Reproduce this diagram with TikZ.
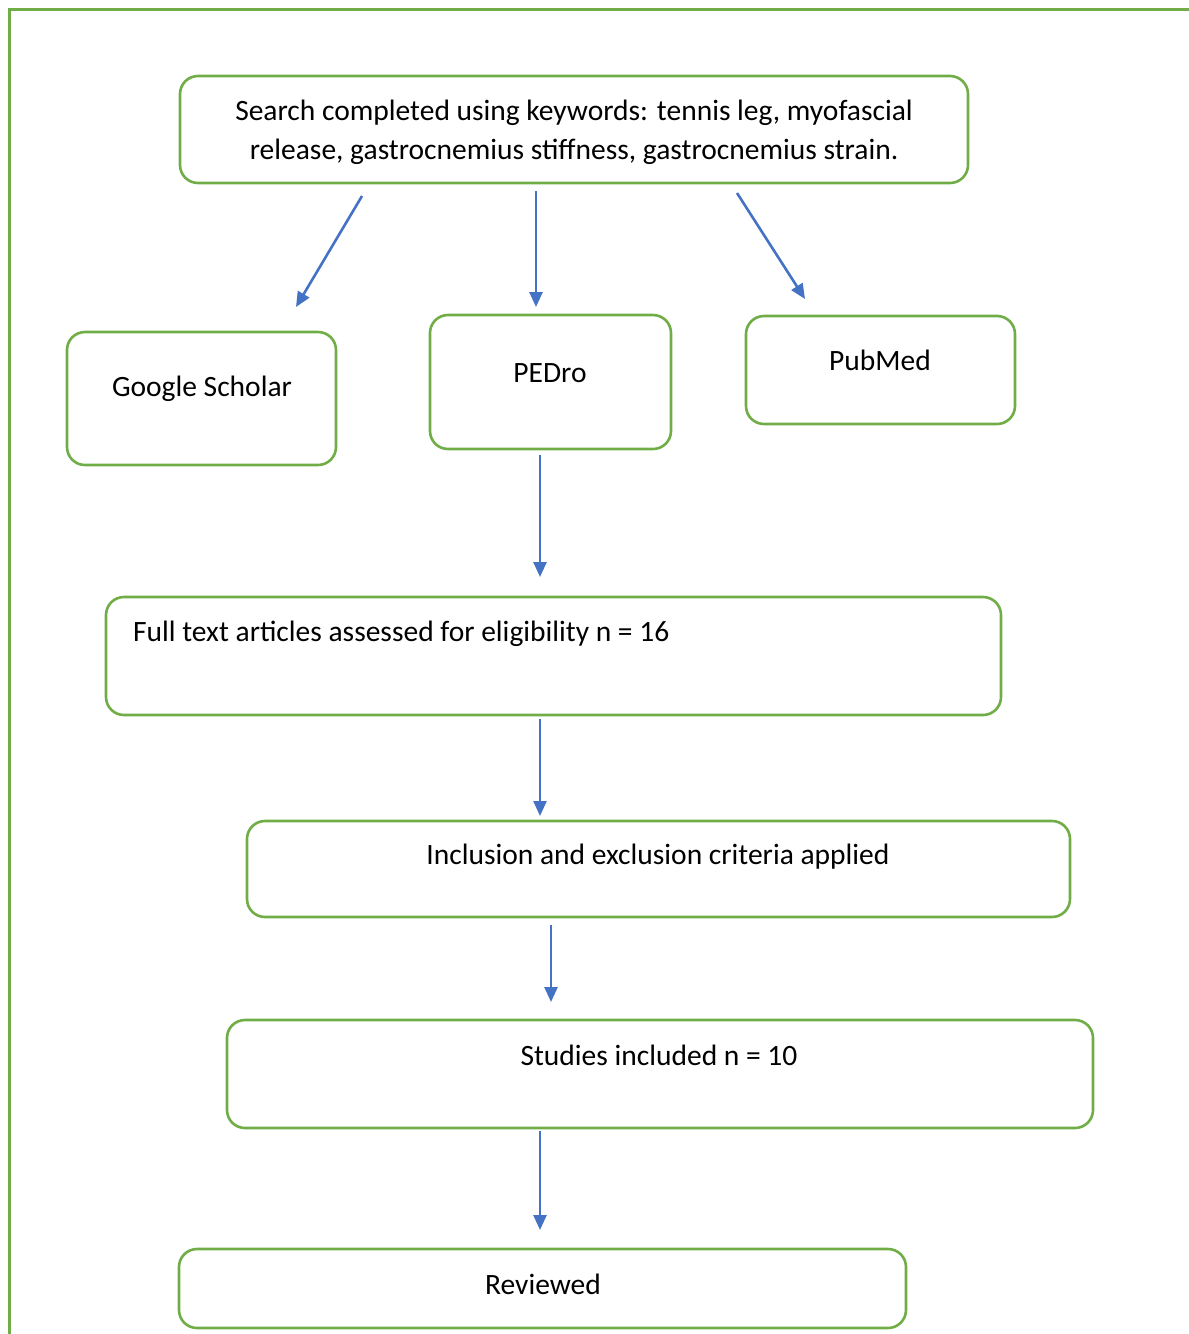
\documentclass[tikz,border=0pt]{standalone}
\usepackage{fontspec}
\setmainfont{Carlito}
\usetikzlibrary{arrows.meta}
\definecolor{bgreen}{HTML}{70AD47}
\definecolor{ablue}{HTML}{4472C4}
\tikzset{
  box/.style={draw=bgreen, line width=2.6pt, rounded corners=18pt, inner sep=0pt},
  txt/.style={inner sep=0pt, font=\fontsize{29.5}{39}\selectfont, align=center},
  conn/.style={draw=ablue, line width=2.6pt, -{Triangle[length=15pt,width=13pt]}},
}
\begin{document}
\begin{tikzpicture}[x=1pt,y=-1pt]
\useasboundingbox (0,0) rectangle (1189,1334);
% outer frame (top and left edges visible)
\draw[bgreen, line width=2.6pt] (9.5,1345) -- (9.5,9.5) -- (1200,9.5);

% boxes
\node[box, minimum width=788pt, minimum height=107pt] (search) at (574,129.5) {};
\node[txt] (searchT) at (574,132) {Search completed using keywords: tennis leg, myofascial\\release, gastrocnemius stiffness, gastrocnemius strain.};

\node[box, minimum width=269pt, minimum height=133pt] (gs) at (201.5,398.5) {};
\node[txt] (gsT) at (202,389) {Google Scholar};

\node[box, minimum width=241pt, minimum height=134pt] (pedro) at (550.5,382) {};
\node[txt] (pedroT) at (550,373) {PEDro};

\node[box, minimum width=269pt, minimum height=108pt] (pubmed) at (880.5,370) {};
\node[txt] (pubmedT) at (880,360) {PubMed};

\node[box, minimum width=895pt, minimum height=118pt] (full) at (553.5,656) {};
\node[txt, anchor=west] (fullT) at (133,634) {Full text articles assessed for eligibility n = 16};

\node[box, minimum width=823pt, minimum height=96pt] (incl) at (658.5,869) {};
\node[txt] (inclT) at (658,857) {Inclusion and exclusion criteria applied};

\node[box, minimum width=866pt, minimum height=108pt] (stud) at (660,1074) {};
\node[txt] (studT) at (659,1055) {Studies included n = 10};

\node[box, minimum width=727pt, minimum height=79pt] (rev) at (542.5,1288.5) {};
\node[txt] (revT) at (543,1284) {Reviewed};

% connector endpoints (free-floating arrows)
\coordinate (a1s) at (362,196); \coordinate (a1e) at (296,307);
\coordinate (a2s) at (536,191); \coordinate (a2e) at (536,307);
\coordinate (a3s) at (737,193); \coordinate (a3e) at (805,299);
\coordinate (a4s) at (540,455); \coordinate (a4e) at (540,577);
\coordinate (a5s) at (540,719); \coordinate (a5e) at (540,816);
\coordinate (a6s) at (551,925); \coordinate (a6e) at (551,1002);
\coordinate (a7s) at (540,1131); \coordinate (a7e) at (540,1230);

\draw[conn] (a1s) -- (a1e);
\draw[conn] (a2s) -- (a2e);
\draw[conn] (a3s) -- (a3e);
\draw[conn] (a4s) -- (a4e);
\draw[conn] (a5s) -- (a5e);
\draw[conn] (a6s) -- (a6e);
\draw[conn] (a7s) -- (a7e);
\end{tikzpicture}
\end{document}
